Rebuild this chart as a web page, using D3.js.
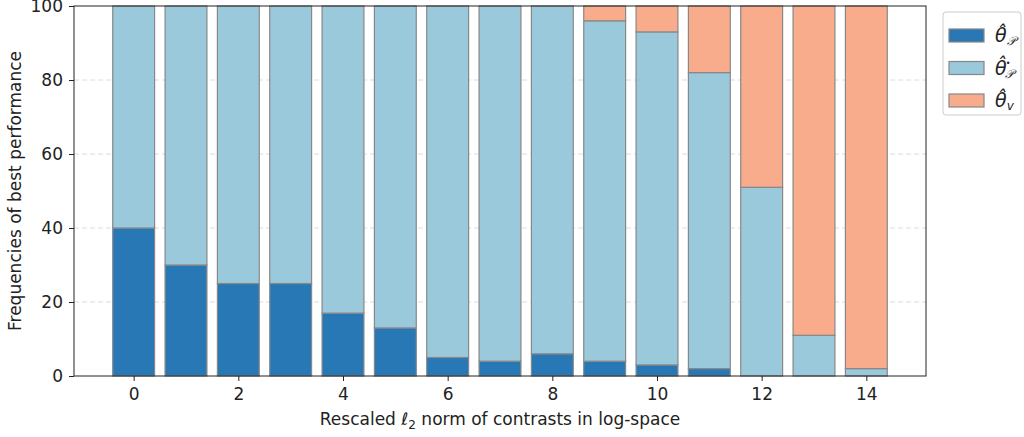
<!DOCTYPE html>
<html>
<head>
<meta charset="utf-8">
<script src="https://cdn.jsdelivr.net/npm/d3@7"></script>
<style>
  body { margin: 0; background: #fff; }
  text { font-family: "DejaVu Sans", sans-serif; fill: #222; }
</style>
</head>
<body>
<div id="chart"></div>
<script>
// values, one entry per bin 0..14
let bins = d3.range(0, 15);
let thetaP = [40, 30, 25, 25, 17, 13, 5, 4, 6, 4, 3, 2, 0, 0, 0];
let thetaPStar = [60, 70, 75, 75, 83, 87, 95, 96, 94, 92, 90, 80, 51, 11, 2];
let thetaV = [0, 0, 0, 0, 0, 0, 0, 0, 0, 4, 7, 18, 49, 89, 98];
let yTicks = [0, 20, 40, 60, 80, 100];
let xTicks = [0, 2, 4, 6, 8, 10, 12, 14];

let width = 1024, height = 437;
let margin = {left: 74, right: 98, top: 6, bottom: 61};
let colors = ["#2878b5", "#9ac9db", "#f8ac8c"];
let edge = "#888";

var svg = d3.select("#chart").append("svg")
    .attr("width", width)
    .attr("height", height);

var x = d3.scaleLinear()
    .domain([-1.14, 15.14])
    .range([margin.left, width - margin.right]);
var y = d3.scaleLinear()
    .domain([0, 100])
    .range([height - margin.bottom, margin.top]);

// grid
svg.append("g")
    .selectAll("line")
    .data(yTicks.filter(d => d > 0 && d < 100))
    .join("line")
    .attr("x1", x.range()[0]).attr("x2", x.range()[1])
    .attr("y1", d => y(d)).attr("y2", d => y(d))
    .attr("stroke", "#dcdcdc")
    .attr("stroke-dasharray", "5,3");

var series = [thetaP, thetaPStar, thetaV];
var stacked = series.map((s, i) => s.map((v, j) => {
    let base = d3.sum(series.slice(0, i), t => t[j]);
    return {x: bins[j], y0: base, y1: base + v};
}));

var bw = x(0.8) - x(0);
stacked.forEach((s, i) => {
    svg.append("g")
        .selectAll("rect")
        .data(s.filter(d => d.y1 > d.y0))
        .join("rect")
        .attr("x", d => x(d.x - 0.4))
        .attr("width", bw)
        .attr("y", d => y(d.y1))
        .attr("height", d => y(d.y0) - y(d.y1))
        .attr("fill", colors[i])
        .attr("stroke", edge)
        .attr("stroke-width", 1.2);
});

// frame
svg.append("rect")
    .attr("x", x.range()[0]).attr("y", y.range()[1])
    .attr("width", x.range()[1] - x.range()[0])
    .attr("height", y.range()[0] - y.range()[1])
    .attr("fill", "none")
    .attr("stroke", "#222")
    .attr("stroke-width", 1);

var xAxis = svg.append("g")
    .attr("transform", `translate(0,${y.range()[0]})`)
    .call(d3.axisBottom(x).tickValues(xTicks).tickSize(5).tickPadding(7));
var yAxis = svg.append("g")
    .attr("transform", `translate(${x.range()[0]},0)`)
    .call(d3.axisLeft(y).tickValues(yTicks).tickSize(5).tickPadding(6));
[xAxis, yAxis].forEach(a => {
    a.attr("font-size", null).attr("font-family", null);
    a.select(".domain").remove();
    a.selectAll("text").attr("font-size", "17px").attr("fill", "#222");
    a.selectAll("line").attr("stroke", "#222");
});

// axis labels
var xl = svg.append("text")
    .attr("x", (x.range()[0] + x.range()[1]) / 2)
    .attr("y", 425)
    .attr("text-anchor", "middle")
    .attr("font-size", "17px");
xl.append("tspan").text("Rescaled ");
xl.append("tspan").text("ℓ").style("font-style", "italic");
xl.append("tspan").text("2").attr("dy", 4).attr("font-size", "12px");
xl.append("tspan").text(" norm of contrasts in log-space").attr("dy", -4);

svg.append("text")
    .attr("transform", `translate(21,${(y.range()[0] + y.range()[1]) / 2}) rotate(-90)`)
    .attr("text-anchor", "middle")
    .attr("font-size", "17px")
    .text("Frequencies of best performance");

// legend
var lg = svg.append("g").attr("transform", "translate(943,12)");
lg.append("rect")
    .attr("width", 78).attr("height", 103).attr("rx", 3)
    .attr("fill", "#fff").attr("stroke", "#ccc");
var subs = ["𝒫", "𝒫", "v"];
var stars = ["", "•", ""];
subs.forEach((s, i) => {
    let row = lg.append("g").attr("transform", `translate(0,${23 + i * 32.5})`);
    row.append("rect")
        .attr("x", 6).attr("y", -6).attr("width", 35).attr("height", 13)
        .attr("fill", colors[i]).attr("stroke", edge).attr("stroke-width", 1.2);
    let t = row.append("text").attr("x", 52).attr("y", 7)
        .attr("font-size", "19px");
    t.append("tspan").style("font-style", "italic").text("θ\u0302");
    if (stars[i]) {
        t.append("tspan").attr("dy", -9).attr("dx", -1).attr("font-size", "8px").text(stars[i]);
        t.append("tspan").attr("dy", 12).attr("dx", -5).attr("font-size", "12px")
            .style("font-style", "italic").text(s);
    } else {
        t.append("tspan").attr("dy", 3).attr("font-size", "12px")
            .style("font-style", "italic").text(s);
    }
});
</script>
</body>
</html>
